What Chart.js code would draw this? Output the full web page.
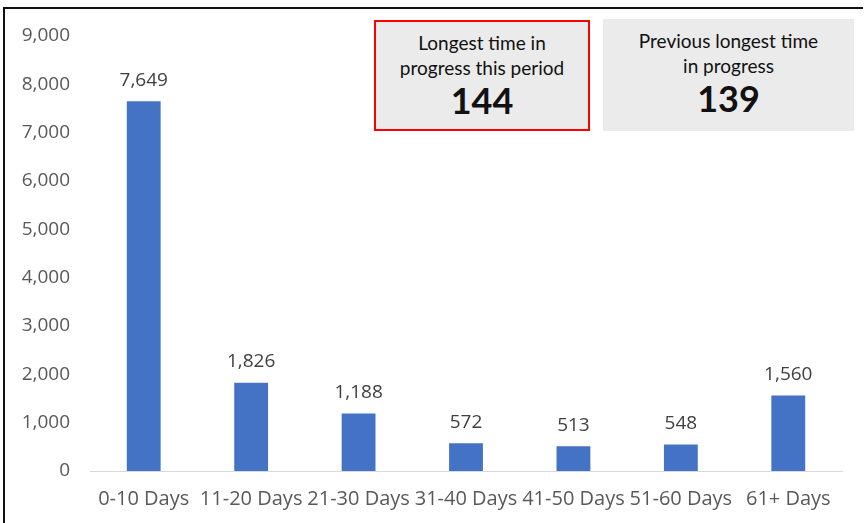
<!DOCTYPE html>
<html>
<head>
<meta charset="utf-8">
<script src="https://cdn.jsdelivr.net/npm/chart.js@4"></script>
<style>
  html, body { margin: 0; padding: 0; background: #fff; }
  #wrap { position: relative; width: 866px; height: 523px; overflow: hidden; }
  #frame { position: absolute; left: 3px; top: 7px; width: 860px; height: 530px;
           border-top: 2px solid #111; border-left: 2px solid #111; box-sizing: border-box; }
  canvas { position: absolute; left: 0; top: 0; }
  .box { position: absolute; background: #EBEBEB; text-align: center; color: #111;
         font-family: Lato, "Open Sans", sans-serif; box-sizing: border-box; }
  .box .t { font-size: 19px; line-height: 25px; }
  .box .v { font-size: 36px; font-weight: bold; line-height: 38px; margin-top: 1px; }
  #b1 { left: 374px; top: 20px; width: 216px; height: 111px; border: 2px solid #FF0000; padding-top: 8px; }
  #b2 { left: 603px; top: 19px; width: 251px; height: 112px; padding-top: 9px; }
</style>
</head>
<body>
<div id="wrap">
  <canvas id="c" width="866" height="523"></canvas>
  <div id="frame"></div>
  <div class="box" id="b1"><div class="t">Longest time in<br>progress this period</div><div class="v" id="v1"></div></div>
  <div class="box" id="b2"><div class="t">Previous longest time<br>in progress</div><div class="v" id="v2"></div></div>
</div>
<script>
const categories = ["0-10 Days", "11-20 Days", "21-30 Days", "31-40 Days", "41-50 Days", "51-60 Days", "61+ Days"];
const counts = [7649, 1826, 1188, 572, 513, 548, 1560];
const yTicks = [0, 1000, 2000, 3000, 4000, 5000, 6000, 7000, 8000, 9000];
const longestThisPeriod = 144;
const previousLongest = 139;

document.getElementById('v1').textContent = longestThisPeriod;
document.getElementById('v2').textContent = previousLongest;

const fmt = v => v.toLocaleString('en-US');
const FONT = '"Open Sans", sans-serif';

const labelPlugin = {
  id: 'barLabels',
  afterDatasetsDraw(chart) {
    const ctx = chart.ctx;
    const meta = chart.getDatasetMeta(0);
    ctx.save();
    ctx.font = '19px ' + FONT;
    ctx.fillStyle = '#404040';
    ctx.textAlign = 'center';
    ctx.textBaseline = 'middle';
    meta.data.forEach((bar, i) => {
      ctx.fillText(fmt(counts[i]), bar.x, bar.y - 21);
    });
    ctx.restore();
  }
};

function draw() {
  new Chart(document.getElementById('c'), {
    type: 'bar',
    data: {
      labels: categories,
      datasets: [{
        data: counts,
        backgroundColor: '#4472C4',
        barPercentage: 0.63,
        categoryPercentage: 0.5
      }]
    },
    options: {
      responsive: false,
      animation: false,
      devicePixelRatio: 1,
      layout: { padding: { top: 36, right: 24, left: 0, bottom: 0 } },
      plugins: { legend: { display: false }, tooltip: { enabled: false } },
      scales: {
        x: {
          grid: { display: false, drawTicks: false },
          border: { display: true, color: '#D9D9D9', width: 1 },
          ticks: { color: '#595959', font: { family: FONT, size: 20 }, padding: 16, maxRotation: 0 },
          afterFit(s) { s.height = 52; }
        },
        y: {
          min: 0, max: 9000,
          afterBuildTicks(s) { s.ticks = yTicks.map(v => ({ value: v })); },
          grid: { display: false, drawTicks: false },
          border: { display: false },
          ticks: { color: '#595959', font: { family: FONT, size: 19 }, padding: 20, callback: v => fmt(v) },
          afterFit(s) { s.width = 90; }
        }
      }
    },
    plugins: [labelPlugin]
  });
}
Promise.all([
  document.fonts.load('19px "Open Sans"'),
  document.fonts.load('20px "Open Sans"')
]).then(draw, draw);
</script>
</body>
</html>
